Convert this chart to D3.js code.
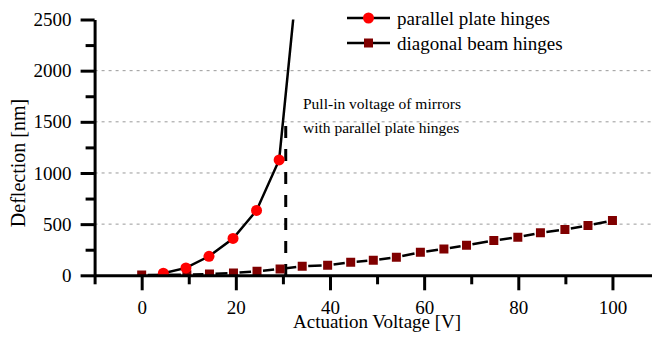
<!DOCTYPE html>
<html>
<head>
<meta charset="utf-8">
<script src="https://cdn.jsdelivr.net/npm/d3@7"></script>
<style>
body { margin: 0; background: #fff; }
svg, svg text { font-family: 'Liberation Serif', Times, serif; }
</style>
</head>
<body>
<svg width="652" height="337"></svg>
<script>
// data
var plateVolt = [4.6, 9.4, 14.3, 19.4, 24.4, 29.2, 32.4];
var plateDefl = [20, 72, 186, 360, 634, 1127, 2600];
var beamVolt = [0, 9.6, 14.4, 19.5, 24.5, 29.4, 34.1, 39.5, 44.4, 49.2, 54.1, 59.2, 64.2, 69.0, 74.8, 79.9, 84.7, 89.9, 94.8, 100];
var beamDefl = [3, 5, 13, 23, 39, 62, 88, 98, 127, 147, 176, 225, 258, 294, 340, 373, 415, 448, 487, 536];
var pullInVolt = 30.6;
var pullInTop = 1460;

var xMajor = [0, 20, 40, 60, 80, 100];
var xMinor = [-10, 10, 30, 50, 70, 90];
var yMajor = [0, 500, 1000, 1500, 2000, 2500];
var yMinor = [250, 750, 1250, 1750, 2250];
var gridVals = [500, 1000, 1500, 2000];

var seriesNames = ["parallel plate hinges", "diagonal beam hinges"];
var noteLines = ["Pull-in voltage of mirrors", "with parallel plate hinges"];

var FONT = "'Liberation Serif', Times, serif";

var svg = d3.select("svg");
svg.append("rect").attr("width", 652).attr("height", 337).attr("fill", "white");

var x = d3.scaleLinear().domain([-10, 108.4]).range([94.6, 652]);
var y = d3.scaleLinear().domain([0, 2500]).range([275.3, 19.5]);

// clip to plot area
svg.append("defs").append("clipPath").attr("id", "plot")
  .append("rect")
  .attr("x", x(-10)).attr("y", y(2500))
  .attr("width", 652 - x(-10)).attr("height", y(0) - y(2500));

// grid
svg.append("g").selectAll("line")
  .data(gridVals)
  .enter().append("line")
  .attr("x1", x(-10)).attr("x2", 652)
  .attr("y1", d => y(d)).attr("y2", d => y(d))
  .attr("stroke", "#999").attr("stroke-width", 1)
  .attr("stroke-dasharray", "3,4");

var plot = svg.append("g").attr("clip-path", "url(#plot)");

// pull-in marker
plot.append("line")
  .attr("x1", x(pullInVolt)).attr("x2", x(pullInVolt))
  .attr("y1", y(pullInTop)).attr("y2", y(0))
  .attr("stroke", "black").attr("stroke-width", 3)
  .attr("stroke-dasharray", "12,11");

// diagonal beam series: line with a gap round each symbol
var beamPts = beamVolt.map((v, i) => [x(v), y(beamDefl[i])]);
var GAP = 6;
var segs = d3.pairs(beamPts).map(function(p) {
  var dx = p[1][0] - p[0][0], dy = p[1][1] - p[0][1];
  var len = Math.sqrt(dx * dx + dy * dy);
  var ux = dx / len, uy = dy / len;
  return {x1: p[0][0] + ux * GAP, y1: p[0][1] + uy * GAP,
          x2: p[1][0] - ux * GAP, y2: p[1][1] - uy * GAP, len: len};
}).filter(s => s.len > 2 * GAP);

plot.append("g").selectAll("line")
  .data(segs)
  .enter().append("line")
  .attr("x1", d => d.x1).attr("y1", d => d.y1)
  .attr("x2", d => d.x2).attr("y2", d => d.y2)
  .attr("stroke", "black").attr("stroke-width", 2.5);

var square = d3.symbol(d3.symbolSquare, 81);
plot.append("g").selectAll("path")
  .data(beamPts)
  .enter().append("path")
  .attr("d", square)
  .attr("transform", d => "translate(" + d[0] + "," + d[1] + ")")
  .attr("fill", "#800000");

// parallel plate series
var platePts = plateVolt.map((v, i) => [v, plateDefl[i]]);
plot.append("path")
  .datum(platePts)
  .attr("fill", "none")
  .attr("stroke", "black").attr("stroke-width", 2.5)
  .attr("d", d3.line().x(d => x(d[0])).y(d => y(d[1])));

plot.append("g").selectAll("circle")
  .data(platePts.slice(0, 6))
  .enter().append("circle")
  .attr("cx", d => x(d[0])).attr("cy", d => y(d[1]))
  .attr("r", 5.5)
  .attr("fill", "#ff0000");

// axes
function styleAxis(g) {
  g.attr("font-family", null);
  g.selectAll(".domain").attr("stroke", "black").attr("stroke-width", 3);
  g.selectAll(".tick line").attr("stroke", "black").attr("stroke-width", 3);
  g.selectAll("text").style("font-family", FONT).style("font-size", "19px").attr("fill", "black");
}

var gxMinor = svg.append("g").attr("transform", "translate(0," + y(0) + ")")
  .call(d3.axisBottom(x).tickValues(xMinor).tickSize(9).tickFormat(""));
gxMinor.select(".domain").remove();
styleAxis(gxMinor);

var gyMinor = svg.append("g").attr("transform", "translate(" + x(-10) + ",0)")
  .call(d3.axisLeft(y).tickValues(yMinor).tickSize(9).tickFormat(""));
gyMinor.select(".domain").remove();
styleAxis(gyMinor);

var gx = svg.append("g").attr("transform", "translate(0," + y(0) + ")")
  .call(d3.axisBottom(x).tickValues(xMajor).tickSize(15).tickPadding(10)
    .tickSizeOuter(0).tickFormat(d3.format("d")));
styleAxis(gx);

var gy = svg.append("g").attr("transform", "translate(" + x(-10) + ",0)")
  .call(d3.axisLeft(y).tickValues(yMajor).tickSize(14).tickPadding(9)
    .tickSizeOuter(0).tickFormat(d3.format("d")));
styleAxis(gy);

// axis titles
svg.append("text")
  .attr("x", x(50)).attr("y", 328)
  .attr("text-anchor", "middle")
  .style("font-family", FONT).style("font-size", "19px")
  .text("Actuation Voltage [V]");

svg.append("text")
  .attr("transform", "translate(25,163) rotate(-90)")
  .attr("text-anchor", "middle")
  .style("font-family", FONT).style("font-size", "20px")
  .text("Deflection [nm]");

// legend
var legend = svg.append("g").attr("transform", "translate(347,18)");
var items = legend.selectAll("g")
  .data(seriesNames)
  .enter().append("g")
  .attr("transform", (d, i) => "translate(0," + i * 25 + ")");
items.append("line")
  .attr("x1", 0).attr("x2", 43)
  .attr("stroke", "black").attr("stroke-width", 2.5);
items.filter((d, i) => i === 0).append("circle")
  .attr("cx", 21.5).attr("r", 5.5).attr("fill", "#ff0000");
items.filter((d, i) => i === 1).append("path")
  .attr("d", square).attr("transform", "translate(21.5,0)").attr("fill", "#800000");
items.append("text")
  .attr("x", 50).attr("dy", "0.37em")
  .style("font-family", FONT).style("font-size", "19px")
  .text(d => d);

// annotation
svg.append("g").selectAll("text")
  .data(noteLines)
  .enter().append("text")
  .attr("x", 303)
  .attr("y", (d, i) => 109.3 + i * 23.4)
  .style("font-family", FONT).style("font-size", "15.5px")
  .text(d => d);
</script>
</body>
</html>
